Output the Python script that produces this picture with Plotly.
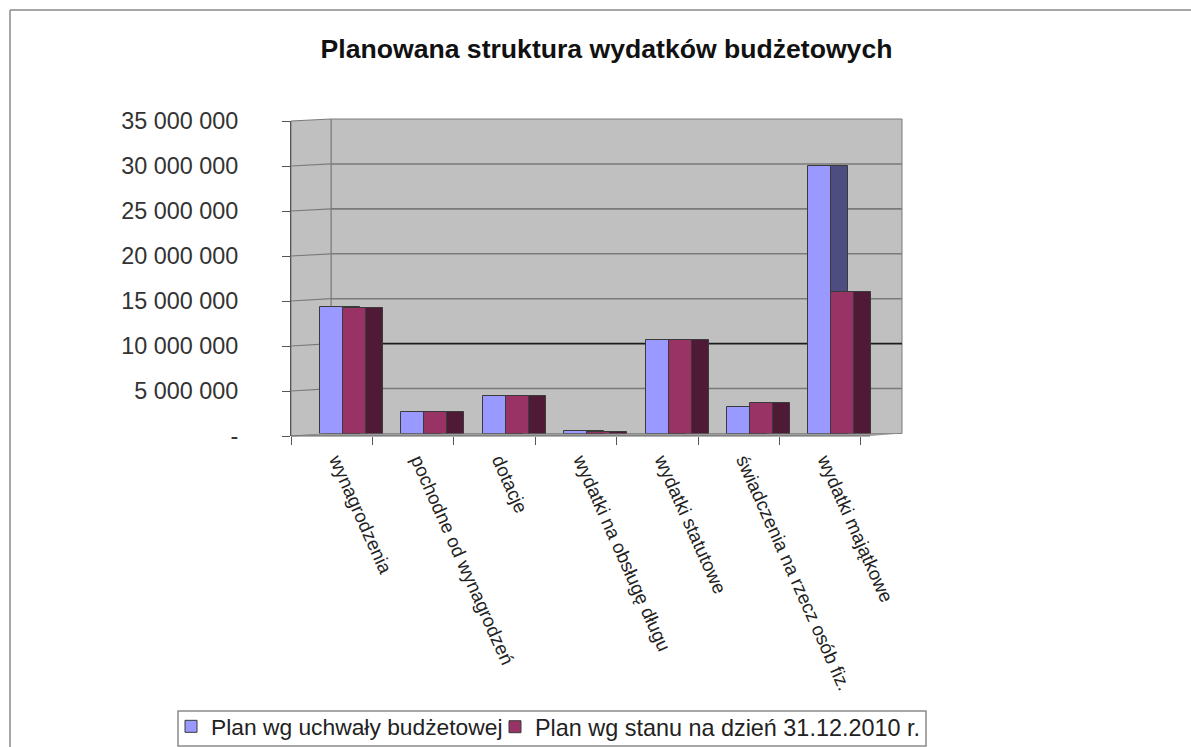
import plotly.graph_objects as go

categories = ["wynagrodzenia", "pochodne od wynagrodzeń", "dotacje", "wydatki na obsługę długu",
              "wydatki statutowe", "świadczenia na rzecz osób fiz.", "wydatki majątkowe"]
plan_uchwala = [14100000, 2400000, 4200000, 280000, 10400000, 3000000, 29800000]
plan_stan = [14000000, 2400000, 4200000, 220000, 10400000, 3350000, 15700000]
series_names = ["Plan wg uchwały budżetowej", "Plan wg stanu na dzień 31.12.2010 r."]
y_ticks = [0, 5000000, 10000000, 15000000, 20000000, 25000000, 30000000, 35000000]
y_labels = ["-", "5 000 000", "10 000 000", "15 000 000", "20 000 000", "25 000 000", "30 000 000", "35 000 000"]

BLUE, RED, BLUE_SIDE, RED_SIDE = "#9999ff", "#993366", "#4d4d80", "#4f1a35"
WALL, FLOOR, GRID = "#c0c0c0", "#9c9c9c", "#7a7a7a"
FRAME = "#8a8a8a"
W, H = 1191, 747
ML = 10                     # left margin of the plot region
L, R, T, B = 291, 902, 119, 436
BACK_X, BACK_BOTTOM, FRONT_TOP = 331, 433.5, 121
FRONT_RIGHT = 870
UNIT = 81.4                 # px per category
XMAX = (R - L) / UNIT
WALL_X = (BACK_X - L) / UNIT
xs = list(range(len(categories)))
MAX_V = y_ticks[-1]

def px(x):
    return (x - ML) / (W - ML)

def py(y):
    return (B - y) / (B - T)

def back_y(v):
    return BACK_BOTTOM - v / MAX_V * (BACK_BOTTOM - T)

def front_y(v):
    return B - v / MAX_V * (B - FRONT_TOP)

fig = go.Figure()
B0, B1, B2, DEPTH = 0.356, 0.639, 0.921, 0.208

def bar(vals, x0, x1, color, name=None, legend="legend", line="#3a3a3a"):
    fig.add_bar(x=xs, y=vals, yaxis="y2", xaxis="x", offset=x0, width=x1 - x0,
                marker=dict(color=color, line=dict(color=line, width=1)),
                name=name, showlegend=name is not None, legend=legend, hoverinfo="y")

# invisible companion so that the front value axis is drawn
fig.add_scatter(x=xs, y=plan_uchwala, mode="markers", marker=dict(opacity=0), xaxis="x", yaxis="y",
                showlegend=False, hoverinfo="skip")
bar(plan_uchwala, B1, B1 + DEPTH, BLUE_SIDE)
bar(plan_stan, B2, B2 + DEPTH, RED_SIDE)
bar(plan_uchwala, B0, B1, BLUE, series_names[0], "legend")
bar(plan_stan, B1, B2, RED, series_names[1], "legend2")

def poly(points):
    return "M " + " L ".join(f"{px(x)} {py(y)}" for x, y in points) + " Z"

shapes = [
    dict(type="path", xref="paper", yref="paper", fillcolor=WALL, line=dict(color=GRID, width=1), layer="below",
         path=poly([(BACK_X, T), (R, T), (R, BACK_BOTTOM), (BACK_X, BACK_BOTTOM)])),
    dict(type="path", xref="paper", yref="paper", fillcolor=WALL, line=dict(color=GRID, width=1), layer="below",
         path=poly([(L, B), (L, FRONT_TOP), (BACK_X, T), (BACK_X, BACK_BOTTOM)])),
    dict(type="path", xref="paper", yref="paper", fillcolor=FLOOR, line=dict(width=0), layer="below",
         path=poly([(L, B), (BACK_X, BACK_BOTTOM), (R, BACK_BOTTOM), (FRONT_RIGHT, B)])),
    dict(type="line", xref="paper", yref="paper", x0=px(L), x1=px(FRONT_RIGHT), y0=py(B), y1=py(B),
         line=dict(color="#666666", width=1), layer="below"),
]
for v in y_ticks[1:-1]:
    color = "#1c1c1c" if v == 10000000 else GRID
    shapes.append(dict(type="line", xref="paper", yref="paper", x0=px(BACK_X), x1=px(R),
                       y0=py(back_y(v)), y1=py(back_y(v)), line=dict(color=color, width=1.6), layer="below"))
    shapes.append(dict(type="line", xref="paper", yref="paper", x0=px(L), x1=px(BACK_X),
                       y0=py(front_y(v)), y1=py(back_y(v)), line=dict(color=GRID, width=1.2), layer="below"))
# page frame and legend box
shapes += [
    dict(type="line", xref="paper", yref="paper", x0=px(10), x1=px(10), y0=py(H), y1=py(10),
         line=dict(color=FRAME, width=1.5)),
    dict(type="line", xref="paper", yref="paper", x0=px(10), x1=px(W), y0=py(10), y1=py(10),
         line=dict(color=FRAME, width=1.5)),
    dict(type="rect", xref="paper", yref="paper", x0=px(178), x1=px(926), y0=py(746), y1=py(711),
         fillcolor="white", line=dict(color=FRAME, width=1.5), layer="below"),
]

legend_common = dict(xref="container", yref="container", y=1 - 705 / H, xanchor="left", yanchor="top",
                     orientation="h", bgcolor="rgba(0,0,0,0)", borderwidth=0)

fig.update_layout(
    width=W, height=H, autosize=False, barmode="overlay", bargap=0,
    margin=dict(l=ML, r=0, t=T, b=H - B, pad=0),
    paper_bgcolor="white", plot_bgcolor="rgba(0,0,0,0)",
    font=dict(family="Liberation Sans, Arial, sans-serif", color="#1a1a1a", size=19),
    title=dict(text="<b>Planowana struktura wydatków budżetowych</b>", x=606.5 / W, xanchor="center",
               xref="container", yref="container", y=1 - 49 / H, yanchor="middle",
               font=dict(size=26.6, color="#111111")),
    shapes=shapes,
    xaxis=dict(domain=[px(L), px(R)], range=[0, XMAX], tickmode="array", tickvals=[x + 0.57 for x in xs],
               ticktext=categories, tickangle=66, ticks="outside", ticklen=5, tickcolor="rgba(0,0,0,0)",
               tickfont=dict(size=18.9, color="#222222"), showgrid=False, zeroline=False,
               showline=False,
               minor=dict(tickmode="array", tickvals=list(range(len(xs) + 1)), ticks="outside",
                          ticklen=8, tickcolor="#555555", tickwidth=1, showgrid=False)),
    yaxis=dict(domain=[0, (B - FRONT_TOP) / (B - T)], range=[0, MAX_V], tickmode="array", tickvals=y_ticks,
               ticktext=y_labels, ticks="outside", ticklen=8, tickcolor="#555555",
               showgrid=False, zeroline=False, showline=True, linecolor="#555555",
               ticklabelstandoff=39, tickfont=dict(size=23.4, color="#333333")),
    yaxis2=dict(domain=[(B - BACK_BOTTOM) / (B - T), 1], range=[0, MAX_V], anchor="x", visible=False),
    legend=dict(x=171 / W, font=dict(size=22.8, color="#222222"), **legend_common),
    legend2=dict(x=495 / W, font=dict(size=23.4, color="#222222"), **legend_common),
)
fig.write_html("out.html", post_script="document.body.style.margin='0';",
               config={"displayModeBar": False})
